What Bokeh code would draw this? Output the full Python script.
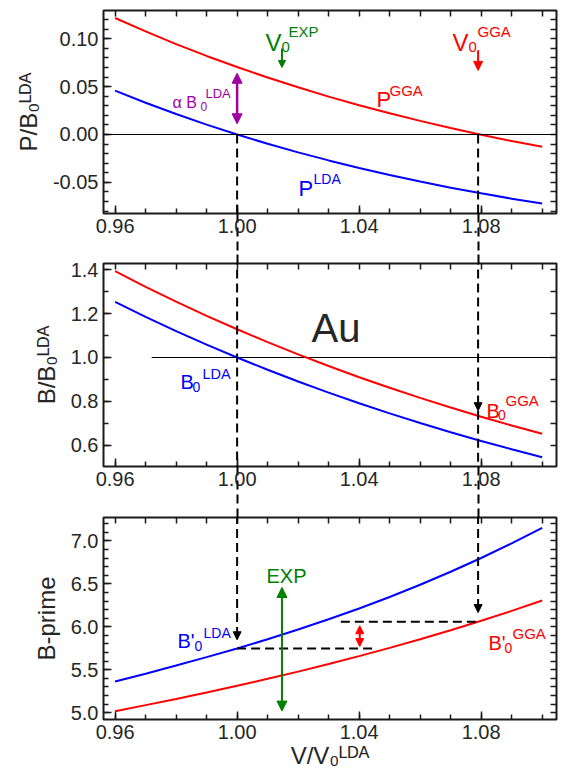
import math
from bokeh.plotting import figure
from bokeh.models import (Range1d, FixedTicker, NumeralTickFormatter, LinearAxis,
                          Label, Arrow, NormalHead, Span)
from bokeh.layouts import column
from bokeh.embed import file_html
from bokeh.resources import INLINE

# ---------------- data ----------------
V = [0.96, 0.97, 0.98, 0.99, 1.00, 1.01, 1.02, 1.03, 1.04, 1.05, 1.06, 1.07, 1.08, 1.09, 1.10]
P_LDA = [0.0458, 0.0332, 0.0214, 0.0103, 0.0, -0.0097, -0.0187, -0.0271, -0.0350,
         -0.0423, -0.0492, -0.0556, -0.0615, -0.0671, -0.0722]
P_GGA = [0.1218, 0.1077, 0.0945, 0.0821, 0.0705, 0.0595, 0.0493, 0.0396, 0.0306,
         0.0221, 0.0142, 0.0067, -0.0003, -0.0068, -0.0129]
B_LDA = [1.2541, 1.1858, 1.1208, 1.0589, 1.0, 0.944, 0.8906, 0.8395, 0.791,
         0.7448, 0.7007, 0.6588, 0.6189, 0.581, 0.5447]
B_GGA = [1.3939, 1.3227, 1.2549, 1.1904, 1.129, 1.070, 1.0144, 0.961, 0.910,
         0.8618, 0.8156, 0.7716, 0.7297, 0.6898, 0.6517]
BP_LDA = [5.364, 5.455, 5.549, 5.647, 5.748, 5.855, 5.968, 6.087, 6.213,
          6.347, 6.489, 6.640, 6.800, 6.970, 7.150]
BP_GGA = [5.019, 5.089, 5.161, 5.236, 5.314, 5.395, 5.479, 5.567, 5.659,
          5.755, 5.855, 5.960, 6.070, 6.185, 6.305]

V0_LDA = 1.000
V0_GGA = 1.079
V0_EXP = 1.0147
V0_MARKS = [V0_LDA, V0_GGA]
B_REF = 1.0
B_REF_FROM = 0.972
BP0_LDA = 5.748
BP0_GGA = 6.058
ALPHA_RANGE = [0.0112, 0.064]
EXP_BP_RANGE = [5.02, 6.457]
DBP_RANGE = [5.771, 6.012]
DBP_X = 1.0402
LDA_DASH_END = 1.0456
GGA_DASH_START = 1.034

X_MAJOR = [0.96, 1.00, 1.04, 1.08]
X_MINOR = [0.96, 0.97, 0.98, 0.99, 1.00, 1.01, 1.02, 1.03, 1.04, 1.05, 1.06, 1.07, 1.08, 1.09, 1.10]
P_MAJOR = [-0.05, 0.00, 0.05, 0.10]
P_MINOR = [-0.08, -0.07, -0.06, -0.05, -0.04, -0.03, -0.02, -0.01, 0.0, 0.01, 0.02, 0.03,
           0.04, 0.05, 0.06, 0.07, 0.08, 0.09, 0.10, 0.11, 0.12]
B_MAJOR = [0.6, 0.8, 1.0, 1.2, 1.4]
B_MINOR = [0.6, 0.7, 0.8, 0.9, 1.0, 1.1, 1.2, 1.3, 1.4]
BP_MAJOR = [5.0, 5.5, 6.0, 6.5, 7.0]
BP_MINOR = [5.0, 5.1, 5.2, 5.3, 5.4, 5.5, 5.6, 5.7, 5.8, 5.9, 6.0, 6.1, 6.2, 6.3, 6.4, 6.5,
            6.6, 6.7, 6.8, 6.9, 7.0, 7.1, 7.2]

# ---------------- style ----------------
FONT = "Liberation Sans"
TXT = "#262626"
FRAME = "#1a1a1a"
RED = "#ff0000"
BLUE = "#0000ff"
GREEN = "#008000"
PURPLE = "#a000a0"
X0, X1 = 0.9562, 1.1047
FL, FR, FW = 103, 9, 453
DASH = "9 5"


def base_axis(ax):
    ax.axis_line_color = None
    ax.major_tick_out = 0
    ax.minor_tick_out = 0
    ax.major_label_standoff = 0


def labeled_axis(ticks, minor, fmt, title=None):
    ax = LinearAxis(ticker=FixedTicker(ticks=ticks, minor_ticks=minor),
                    formatter=NumeralTickFormatter(format=fmt))
    base_axis(ax)
    ax.major_tick_in = 8
    ax.minor_tick_in = 5
    ax.major_tick_line_color = FRAME
    ax.major_tick_line_width = 1.5
    ax.minor_tick_line_color = FRAME
    ax.minor_tick_line_width = 1.5
    ax.major_label_text_font = FONT
    ax.major_label_text_font_size = "20px"
    ax.major_label_text_color = TXT
    ax.major_label_standoff = 5
    if title:
        ax.axis_label = title
        ax.axis_label_text_font = FONT
        ax.axis_label_text_font_size = "24px"
        ax.axis_label_text_font_style = "normal"
        ax.axis_label_text_color = TXT
        ax.axis_label_standoff = 8
    return ax


def mirror_axis(minor):
    # ticks only (no labels) for the top / right side of the frame
    ax = LinearAxis(ticker=FixedTicker(ticks=[], minor_ticks=minor))
    base_axis(ax)
    ax.minor_tick_in = 6
    ax.minor_tick_line_color = FRAME
    ax.minor_tick_line_width = 1.5
    return ax


def dash_axis(length):
    # carries the dashed V0 guide lines outward, through the space between panels
    ax = LinearAxis(ticker=FixedTicker(ticks=[], minor_ticks=V0_MARKS))
    base_axis(ax)
    ax.minor_tick_in = -length
    ax.minor_tick_out = 0
    ax.minor_tick_line_color = "black"
    ax.minor_tick_line_width = 2
    ax.minor_tick_line_dash = DASH
    return ax


def make_panel(ylo, yhi, top, fh, bottom, page_top, ymaj, ymin, fmt, ytitle,
               dash_top=0, dash_bottom=0, xtitle=None):
    p = figure(frame_width=FW, frame_height=fh, x_range=Range1d(X0, X1),
               y_range=Range1d(ylo, yhi), x_axis_type=None, y_axis_type=None,
               output_backend="svg", toolbar_location=None,
               min_border_left=FL, min_border_right=FR,
               min_border_top=top, min_border_bottom=bottom)
    p.outline_line_color = FRAME
    p.outline_line_width = 2
    p.background_fill_color = "white"
    p.border_fill_color = "white"
    if dash_bottom:
        p.add_layout(dash_axis(dash_bottom), "below")
    p.add_layout(labeled_axis(X_MAJOR, X_MINOR, "0.00", xtitle), "below")
    if dash_top:
        p.add_layout(dash_axis(dash_top), "above")
    p.add_layout(mirror_axis(X_MINOR), "above")
    p.add_layout(labeled_axis(ymaj, ymin, fmt, ytitle), "left")
    p.add_layout(mirror_axis(ymin), "right")
    info = dict(ylo=ylo, yhi=yhi, top=page_top, fh=fh)
    return p, info


def put(p, info, px, py, text, size, color):
    """place a text piece whose left/baseline point is at page pixel (px, py)"""
    x = X0 + (px - FL) / FW * (X1 - X0)
    y = info["yhi"] - (py - info["top"]) / info["fh"] * (info["yhi"] - info["ylo"])
    p.add_layout(Label(x=x, y=y, text=text, text_font=FONT, text_font_size=f"{size}px",
                       text_color=color, text_align="left", text_baseline="alphabetic"))


def arrow(p, x0, y0, x1, y1, color, width, size=None, both=False, dash="solid"):
    def head():
        return NormalHead(size=size, fill_color=color, line_color=color, line_width=1)
    p.add_layout(Arrow(x_start=x0, y_start=y0, x_end=x1, y_end=y1,
                       end=head() if size else None,
                       start=head() if (size and both) else None,
                       line_color=color, line_width=width, line_dash=dash))


# ---------------- panel 1 : pressure ----------------
p1, i1 = make_panel(-0.0826, 0.1296, 10, 203, 41, 10, P_MAJOR, P_MINOR, "0.00",
                    "P/B\u2080\u1d38\u1d30\u1d2c", dash_bottom=50)
p1.add_layout(Span(location=0, dimension="width", line_color="black", line_width=1.2))
p1.line(V, P_GGA, line_color=RED, line_width=2)
p1.line(V, P_LDA, line_color=BLUE, line_width=2)
arrow(p1, V0_LDA, 0.0, V0_LDA, -1.0, "black", 2, dash=DASH)
arrow(p1, V0_GGA, 0.0, V0_GGA, -1.0, "black", 2, dash=DASH)
arrow(p1, V0_LDA, ALPHA_RANGE[0], V0_LDA, ALPHA_RANGE[1], PURPLE, 2.5, size=10, both=True)
arrow(p1, V0_EXP, 0.090, V0_EXP, 0.070, GREEN, 2, size=7)
arrow(p1, V0_GGA, 0.088, V0_GGA, 0.067, RED, 2, size=9)
put(p1, i1, 265, 42, "V", 24, GREEN)
put(p1, i1, 281, 46, "0", 15, GREEN)
put(p1, i1, 288, 31, "EXP", 15, GREEN)
put(p1, i1, 452, 42, "V", 24, RED)
put(p1, i1, 468, 46, "0", 15, RED)
put(p1, i1, 477, 31, "GGA", 15, RED)
put(p1, i1, 172, 101.5, "\u03b1 B", 16, PURPLE)
put(p1, i1, 200, 105.5, "0", 12, PURPLE)
put(p1, i1, 205, 93, "LDA", 13, PURPLE)
put(p1, i1, 376, 98.5, "P", 22, RED)
put(p1, i1, 389, 90, "GGA", 15, RED)
put(p1, i1, 298, 188, "P", 22, BLUE)
put(p1, i1, 313, 178, "LDA", 14, BLUE)

# ---------------- panel 2 : bulk modulus ----------------
p2, i2 = make_panel(0.5023, 1.4292, 9, 203, 41, 263, B_MAJOR, B_MINOR, "0.0",
                    "B/B\u2080\u1d38\u1d30\u1d2c", dash_top=12, dash_bottom=50)
p2.segment(x0=[B_REF_FROM], y0=[B_REF], x1=[X1], y1=[B_REF], line_color="black", line_width=1.2)
p2.line(V, B_GGA, line_color=RED, line_width=2)
p2.line(V, B_LDA, line_color=BLUE, line_width=2)
arrow(p2, V0_LDA, 3.0, V0_LDA, -1.0, "black", 2, dash=DASH)
arrow(p2, V0_GGA, 3.0, V0_GGA, 0.757, "black", 2, size=8, dash=DASH)
arrow(p2, V0_GGA, 0.757, V0_GGA, -1.0, "black", 2, dash=DASH)
put(p2, i2, 311, 327, "Au", 40, TXT)
put(p2, i2, 180, 381, "B", 20, BLUE)
put(p2, i2, 192, 386, "0", 14, BLUE)
put(p2, i2, 202, 373, "LDA", 14.5, BLUE)
put(p2, i2, 486, 410, "B", 20, RED)
put(p2, i2, 497.5, 414, "0", 14, RED)
put(p2, i2, 505, 400, "GGA", 15, RED)

# ---------------- panel 3 : B-prime ----------------
p3, i3 = make_panel(4.922, 7.271, 10, 202, 54, 517, BP_MAJOR, BP_MINOR, "0.0",
                    "B-prime", dash_top=12, xtitle="V/V\u2080\u1d38\u1d30\u1d2c")
p3.below[-1].axis_label_standoff = 0
p3.line(V, BP_LDA, line_color=BLUE, line_width=2)
p3.line(V, BP_GGA, line_color=RED, line_width=2)
arrow(p3, V0_LDA, 20.0, V0_LDA, 5.849, "black", 2, size=8, dash=DASH)
arrow(p3, V0_GGA, 20.0, V0_GGA, 6.166, "black", 2, size=8, dash=DASH)
p3.segment(x0=[V0_LDA, GGA_DASH_START], y0=[BP0_LDA, BP0_GGA],
           x1=[LDA_DASH_END, V0_GGA], y1=[BP0_LDA, BP0_GGA],
           line_color="black", line_width=2, line_dash=DASH)
arrow(p3, V0_EXP, EXP_BP_RANGE[0], V0_EXP, EXP_BP_RANGE[1], GREEN, 2, size=10, both=True)
arrow(p3, DBP_X, DBP_RANGE[0], DBP_X, DBP_RANGE[1], RED, 2, size=8, both=True)
put(p3, i3, 266, 575, "EXP", 20, GREEN)
put(p3, i3, 177, 640, "B'", 20, BLUE)
put(p3, i3, 194, 645, "0", 14, BLUE)
put(p3, i3, 203, 632, "LDA", 14, BLUE)
put(p3, i3, 488, 642, "B'", 20, RED)
put(p3, i3, 504, 647, "0", 14, RED)
put(p3, i3, 512, 633, "GGA", 15, RED)

layout = column(p1, p2, p3)
with open("out.html", "w") as f:
    f.write(file_html(layout, INLINE))
